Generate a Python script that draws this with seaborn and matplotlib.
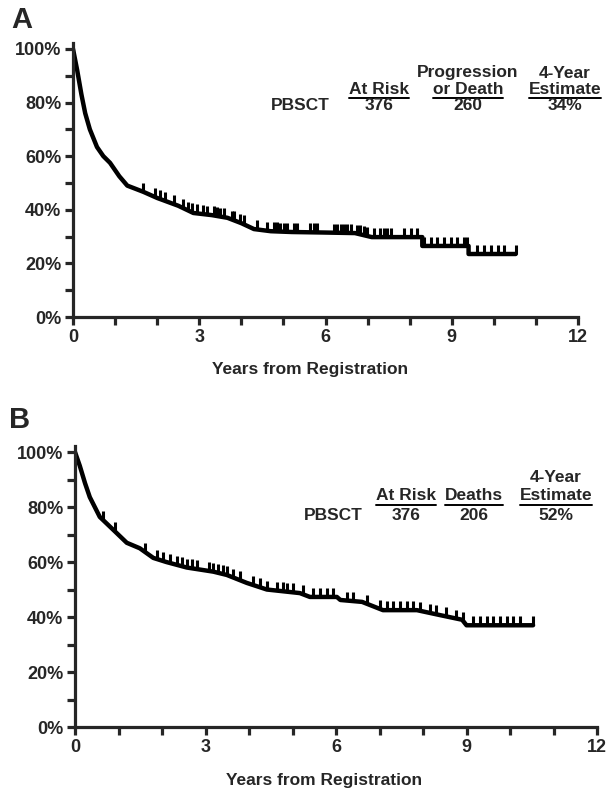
import numpy as np
import seaborn as sns
import matplotlib.pyplot as plt
from matplotlib.path import Path
from matplotlib.lines import Line2D
from matplotlib.ticker import MultipleLocator, PercentFormatter

# Panel A: progression-free survival
pfs_years = [0, 0.10, 0.20, 0.29, 0.40, 0.57, 0.72, 0.88, 1.10, 1.29, 1.67, 2.00, 2.50,
             2.86, 3.30, 3.67, 4.00, 4.30, 4.70, 5.20, 6.00, 6.70, 7.10, 8.30, 8.30, 9.40, 9.40, 10.52]
pfs_surv = [1.00, 0.92, 0.83, 0.76, 0.70, 0.634, 0.60, 0.575, 0.525, 0.49, 0.467, 0.444, 0.415,
            0.388, 0.38, 0.37, 0.35, 0.328, 0.32, 0.317, 0.315, 0.313, 0.298, 0.298, 0.265, 0.265, 0.235, 0.235]
pfs_censored = [1.67, 1.95, 2.07, 2.19, 2.39, 2.62, 2.74, 2.82, 2.94, 3.10, 3.18, 3.34, 3.42, 3.50,
                3.58, 3.78, 3.82, 3.98, 4.06, 4.37, 4.61, 4.77, 4.85, 4.93, 5.01, 5.09, 5.25, 5.33,
                5.64, 5.72, 5.80, 6.20, 6.28, 6.36, 6.44, 6.52, 6.60, 6.75, 6.83, 6.91, 6.99, 7.15,
                7.30, 7.39, 7.47, 7.55, 7.86, 8.02, 8.18, 8.34, 8.50, 8.66, 8.82, 8.98, 9.13, 9.29,
                9.37, 9.61, 9.77, 9.93, 10.09, 10.25, 10.52]

# Panel B: overall survival
os_years = [0, 0.11, 0.23, 0.34, 0.57, 0.96, 1.19, 1.49, 1.80, 2.10, 2.57, 3.18, 3.49, 3.95, 4.41,
            5.17, 5.40, 6.02, 6.10, 6.60, 7.08, 7.86, 8.39, 8.90, 9.00, 10.53]
os_surv = [1.00, 0.95, 0.887, 0.836, 0.764, 0.705, 0.67, 0.65, 0.615, 0.60, 0.58, 0.565, 0.553, 0.524,
           0.50, 0.487, 0.473, 0.473, 0.462, 0.455, 0.425, 0.425, 0.407, 0.39, 0.37, 0.37]
os_censored = [0.65, 0.92, 1.61, 1.88, 2.03, 2.18, 2.34, 2.45, 2.57, 2.68, 2.80, 3.07, 3.18, 3.29,
               3.41, 3.49, 3.64, 3.79, 4.10, 4.25, 4.41, 4.64, 4.79, 4.87, 5.02, 5.25, 5.48, 5.63,
               5.79, 5.94, 6.25, 6.40, 6.71, 7.01, 7.17, 7.32, 7.47, 7.63, 7.78, 7.93, 8.16, 8.31,
               8.54, 8.77, 8.93, 9.16, 9.31, 9.46, 9.62, 9.77, 9.92, 10.08, 10.23, 10.53]

group = "PBSCT"
at_risk = "376"
headers_a = [("", "At Risk"), ("Progression", "or Death"), ("4-Year", "Estimate")]
values_a = [at_risk, "260", "34%"]
headers_b = [("", "At Risk"), ("", "Deaths"), ("4-Year", "Estimate")]
values_b = [at_risk, "206", "52%"]

sns.set_style("ticks")
plt.rcParams['font.family'] = ['Liberation Sans', 'DejaVu Sans']
plt.rcParams['font.weight'] = 'bold'

W, H = 608, 796
fig = plt.figure(figsize=(W / 100, H / 100), dpi=100)


def px(x, y):
    return x / W, 1 - y / H


def km_panel(rect, years, surv, censored, letter, letter_xy, xlabel_xy):
    ax = fig.add_axes(rect)
    sns.lineplot(x=years, y=surv, ax=ax, color='black', linewidth=3.2,
                 estimator=None, sort=False)
    cens_y = np.interp(censored, years, surv)
    sns.scatterplot(x=censored, y=cens_y, ax=ax, marker=Path([(0, 0), (0, 1)]),
                    s=170, color='black', edgecolor='black', linewidth=2.2, zorder=3)
    ax.set_xlim(0, 12)
    ax.set_ylim(0, 1.022)
    ax.xaxis.set_major_locator(MultipleLocator(3))
    ax.xaxis.set_minor_locator(MultipleLocator(1))
    ax.yaxis.set_major_locator(MultipleLocator(0.2))
    ax.yaxis.set_minor_locator(MultipleLocator(0.1))
    ax.yaxis.set_major_formatter(PercentFormatter(1.0, decimals=0))
    ax.tick_params(which='both', direction='out', length=5.5, width=2.3, labelsize=13)
    ax.tick_params(axis='x', pad=3)
    ax.tick_params(axis='y', pad=3)
    for lab in ax.get_xticklabels() + ax.get_yticklabels():
        lab.set_fontweight('bold')
    sns.despine(ax=ax)
    for s in ('left', 'bottom'):
        ax.spines[s].set_linewidth(2.3)
    ax.set_xlabel('')
    ax.set_ylabel('')
    fig.text(*px(*letter_xy), letter, fontsize=21, fontweight='bold', va='center', ha='center')
    fig.text(*px(*xlabel_xy), 'Years from Registration', fontsize=12.5,
             fontweight='bold', ha='center', va='center')
    return ax


def risk_table(headers, values, cols, rows, group_x):
    under = []
    fig.text(*px(group_x, rows[2]), group, fontsize=12.5, fontweight='bold', ha='center', va='center')
    for (top, bottom), val, x in zip(headers, values, cols):
        if top:
            fig.text(*px(x, rows[0]), top, fontsize=12.5, fontweight='bold', ha='center', va='center')
        t = fig.text(*px(x, rows[1]), bottom, fontsize=12.5, fontweight='bold', ha='center', va='center')
        under.append(t)
        fig.text(*px(x, rows[2]), val, fontsize=12.5, fontweight='bold', ha='center', va='center')
    return under


axA = km_panel([73 / W, 1 - 317 / H, 505 / W, 274 / H], pfs_years, pfs_surv, pfs_censored,
               'A', (22, 20), (310, 370))
axB = km_panel([75 / W, 1 - 727 / H, 522 / W, 281 / H], os_years, os_surv, os_censored,
               'B', (20, 420), (324, 780))

under = risk_table(headers_a, values_a, [379, 468, 565], [73, 89, 105], 300)
under += risk_table(headers_b, values_b, [406, 474, 556], [477, 496, 515], 333)

# underline the column headers
fig.canvas.draw()
renderer = fig.canvas.get_renderer()
for t in under:
    bb = t.get_window_extent(renderer)
    y = bb.y0 - 1
    fig.add_artist(Line2D([bb.x0 / W, bb.x1 / W], [y / H, y / H], color='black', linewidth=1.4))

fig.savefig('out.png', dpi=100)
